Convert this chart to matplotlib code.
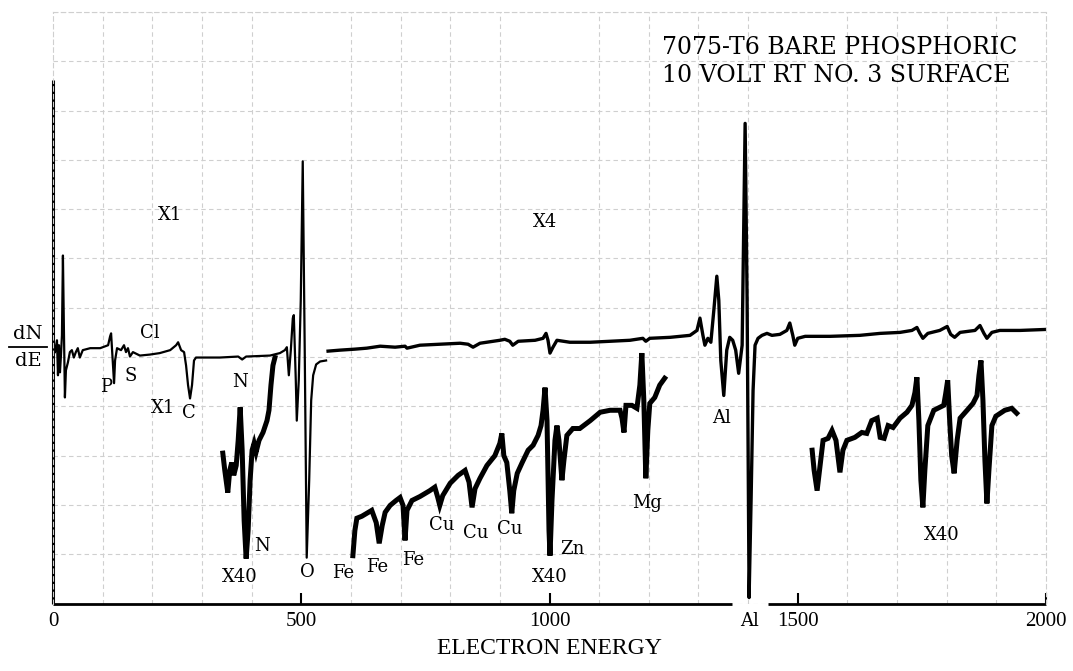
import numpy as np
import matplotlib.pyplot as plt
from matplotlib.lines import Line2D

# main trace, X1 part (eV, dN/dE in grid units)
x1_ev = [4, 8, 10, 12, 14, 16, 18, 20, 22, 24, 26, 30, 34, 38, 42, 46, 50, 54, 60, 75,
         95, 111, 115, 117, 119, 123, 125, 129, 137, 143, 147, 151, 155, 161, 175, 195,
         215, 236, 248, 252, 258, 264, 268, 272, 276, 280, 284, 288, 336, 373, 381, 389,
         437, 457, 467, 471, 475, 479, 483, 485, 489, 491, 495, 499, 503, 507, 511, 516,
         520, 524, 530, 538, 550]
x1_sig = [5.10, 5.34, 4.63, 5.24, 4.69, 5.03, 5.44, 7.06, 5.54, 4.18, 4.73, 4.89, 5.10,
          5.14, 4.99, 5.10, 5.18, 4.99, 5.14, 5.18, 5.18, 5.24, 5.42, 5.48, 5.14, 4.47,
          4.93, 5.18, 5.14, 5.24, 5.10, 5.18, 5.01, 5.10, 5.03, 5.05, 5.08, 5.14, 5.24,
          5.30, 5.14, 5.10, 4.83, 4.43, 4.16, 4.43, 4.93, 4.99, 4.99, 5.01, 4.95, 5.01,
          5.03, 5.08, 5.14, 5.20, 4.63, 5.14, 5.79, 5.85, 4.53, 3.71, 4.53, 6.15, 8.97,
          5.14, 0.93, 2.50, 4.12, 4.63, 4.85, 4.91, 4.93]

# main trace, X4 part
x4_ev = [554, 578, 608, 632, 659, 689, 709, 713, 739, 779, 820, 836, 846, 860, 900, 910,
         920, 926, 937, 971, 987, 993, 997, 1001, 1007, 1015, 1041, 1082, 1122, 1162,
         1188, 1194, 1202, 1243, 1283, 1297, 1303, 1309, 1313, 1319, 1325, 1331, 1337,
         1341, 1345, 1351, 1357, 1363, 1369, 1375, 1381, 1388, 1394, 1398, 1402, 1406,
         1410, 1414, 1420, 1428, 1438, 1448, 1464, 1478, 1484, 1490, 1494, 1500, 1515,
         1565, 1625, 1666, 1706, 1730, 1740, 1746, 1752, 1762, 1786, 1801, 1808, 1816,
         1827, 1857, 1867, 1875, 1881, 1891, 1907, 1948, 2000]
x4_sig = [5.12, 5.14, 5.16, 5.18, 5.22, 5.20, 5.22, 5.18, 5.24, 5.26, 5.28, 5.26, 5.20,
          5.28, 5.34, 5.36, 5.32, 5.24, 5.32, 5.34, 5.38, 5.48, 5.34, 5.08, 5.20, 5.34,
          5.30, 5.30, 5.32, 5.34, 5.38, 5.32, 5.38, 5.40, 5.44, 5.54, 5.79, 5.44, 5.24,
          5.38, 5.30, 5.95, 6.64, 6.15, 4.93, 4.22, 5.14, 5.40, 5.34, 5.14, 4.67, 5.24,
          9.74, 6.15, 0.12, 2.09, 4.32, 5.24, 5.38, 5.44, 5.48, 5.44, 5.46, 5.54, 5.69,
          5.44, 5.24, 5.38, 5.42, 5.42, 5.44, 5.48, 5.50, 5.54, 5.60, 5.48, 5.38, 5.48,
          5.54, 5.62, 5.46, 5.40, 5.50, 5.54, 5.64, 5.48, 5.38, 5.50, 5.54, 5.54, 5.56]

# X40 traces
n_ev = [342, 346, 350, 352, 356, 360, 364, 369, 373, 377, 381, 385, 389, 393, 397, 401,
        405, 409, 415, 423, 431, 435, 439, 443, 447]
n_sig = [3.05, 2.70, 2.40, 2.25, 2.70, 2.86, 2.60, 2.80, 3.31, 3.98, 3.11, 1.68, 0.91,
         1.48, 2.50, 3.11, 3.25, 3.07, 3.31, 3.47, 3.71, 3.92, 4.43, 4.83, 4.99]

mid_ev = [604, 608, 612, 622, 632, 642, 651, 657, 663, 669, 679, 691, 699, 705, 709, 713,
          723, 739, 759, 769, 775, 779, 785, 800, 816, 830, 838, 844, 850, 860, 874, 890,
          900, 904, 908, 914, 920, 924, 928, 935, 945, 957, 967, 977, 983, 987, 991, 995,
          999, 1001, 1005, 1011, 1015, 1019, 1025, 1029, 1035, 1047, 1061, 1082, 1102,
          1122, 1142, 1146, 1150, 1154, 1166, 1176, 1182, 1186, 1190, 1194, 1198, 1202,
          1212, 1222, 1232]
mid_sig = [0.97, 1.48, 1.73, 1.77, 1.83, 1.89, 1.64, 1.22, 1.58, 1.85, 1.99, 2.09, 2.15,
           1.99, 1.28, 1.89, 2.09, 2.17, 2.29, 2.36, 2.15, 1.99, 2.19, 2.44, 2.60, 2.70,
           2.46, 1.95, 2.33, 2.54, 2.80, 3.00, 3.25, 3.45, 3.00, 2.86, 2.29, 1.83, 2.29,
           2.64, 2.86, 3.11, 3.21, 3.41, 3.61, 3.92, 4.38, 3.71, 1.48, 0.97, 2.09, 3.31,
           3.61, 3.31, 2.50, 2.90, 3.41, 3.55, 3.55, 3.71, 3.88, 3.92, 3.92, 3.76, 3.47,
           4.02, 4.02, 3.96, 4.43, 5.08, 4.12, 2.54, 3.51, 4.06, 4.18, 4.43, 4.57]

hi_ev = [1529, 1533, 1539, 1545, 1551, 1561, 1569, 1577, 1585, 1591, 1599, 1615, 1629,
         1639, 1649, 1660, 1666, 1674, 1682, 1692, 1706, 1720, 1730, 1736, 1740, 1744,
         1748, 1752, 1756, 1762, 1774, 1786, 1794, 1798, 1802, 1806, 1810, 1815, 1821,
         1827, 1841, 1853, 1861, 1865, 1869, 1873, 1877, 1881, 1885, 1891, 1899, 1917,
         1931, 1941]
hi_sig = [3.11, 2.70, 2.29, 2.80, 3.31, 3.35, 3.51, 3.31, 2.66, 3.11, 3.31, 3.37, 3.47,
          3.45, 3.71, 3.76, 3.37, 3.35, 3.61, 3.57, 3.76, 3.88, 4.02, 4.28, 4.59, 3.71,
          2.50, 1.95, 2.70, 3.61, 3.92, 3.98, 4.02, 4.26, 4.53, 3.71, 3.00, 2.64, 3.31,
          3.76, 3.92, 4.06, 4.22, 4.63, 4.93, 4.12, 2.90, 2.03, 2.70, 3.61, 3.80, 3.92,
          3.96, 3.86]

# peak labels
lab_text = ['X1', 'X4', 'Cl', 'P', 'S', 'X1', 'C', 'N', 'N', 'X40', 'O', 'Fe', 'Fe', 'Fe',
            'Cu', 'Cu', 'Cu', 'X40', 'Zn', 'Mg', 'Al', 'X40']
lab_ev = [236, 991, 195, 106, 157, 221, 274, 377, 421, 377, 512, 584, 653, 725,
          783, 852, 920, 1001, 1047, 1196, 1347, 1790]
lab_y = [7.88, 7.73, 5.48, 4.40, 4.61, 3.96, 3.86, 4.49, 1.16, 0.53, 0.63, 0.61, 0.75, 0.89,
         1.60, 1.44, 1.52, 0.53, 1.10, 2.03, 3.76, 1.38]

xticks = [0, 500, 1000, 1500, 2000]

serif = 'DejaVu Serif'
fig = plt.figure(figsize=(10.73, 6.71), dpi=100)
ax = fig.add_axes([53 / 1073, 67.5 / 671, 993 / 1073, 591.5 / 671])
ax.set_xlim(0, 2000)
ax.set_ylim(0, 12)

# chart-paper grid
ax.set_xticks(np.arange(0, 2001, 100), minor=True)
ax.set_yticks(np.arange(0, 13, 1), minor=True)
ax.grid(which='minor', color='#cfcfcf', linewidth=0.8, linestyle=(0, (4, 3)))
ax.set_yticks([])
ax.tick_params(axis='y', which='both', length=0)
ax.set_xticks(xticks)
ax.set_xticklabels([str(t) for t in xticks], family='Liberation Serif', fontsize=15)
ax.tick_params(axis='x', which='major', direction='in', length=8, width=1.5, pad=6)
ax.tick_params(axis='x', which='minor', length=0)

for side in ['top', 'right', 'left']:
    ax.spines[side].set_color('#cfcfcf')
    ax.spines[side].set_linestyle((0, (4, 3)))
    ax.spines[side].set_linewidth(0.8)
ax.spines['bottom'].set_visible(False)

# solid axis lines (bottom one has a gap for the Al label)
ax.hlines([0, 0], [0, 1440], [1368, 2000], color='black', linewidth=2, clip_on=False)
ax.vlines(0, 0, 10.62, color='black', linewidth=2.2, clip_on=False)

ax.plot(x1_ev, x1_sig, color='black', linewidth=1.6)
ax.plot(x4_ev, x4_sig, color='black', linewidth=2.4)
for ev, sig in [(n_ev, n_sig), (mid_ev, mid_sig), (hi_ev, hi_sig)]:
    ax.plot(ev, sig, color='black', linewidth=3.6, solid_joinstyle='miter')

for t, xe, ye in zip(lab_text, lab_ev, lab_y):
    ax.text(xe, ye, t, family=serif, fontsize=13, ha='center', va='center')
ax.text(1402, -0.35, 'Al', family=serif, fontsize=13, ha='center', va='center', clip_on=False)

ax.set_xlabel('ELECTRON ENERGY', family='Liberation Serif', fontsize=17, labelpad=5)

# dN/dE fraction on the left
fig.text(28 / 1073, 1 - 334 / 671, 'dN', family=serif, fontsize=14, ha='center', va='center')
fig.text(28 / 1073, 1 - 361 / 671, 'dE', family=serif, fontsize=14, ha='center', va='center')
fig.add_artist(Line2D([9 / 1073, 47 / 1073], [1 - 347 / 671, 1 - 347 / 671],
                      color='black', linewidth=1.3))

fig.text(662 / 1073, 1 - 47 / 671, '7075-T6 BARE PHOSPHORIC', family=serif, fontsize=17,
         ha='left', va='center')
fig.text(662 / 1073, 1 - 75 / 671, '10 VOLT RT NO. 3 SURFACE', family=serif, fontsize=17,
         ha='left', va='center')

fig.savefig('out.png', dpi=100)
